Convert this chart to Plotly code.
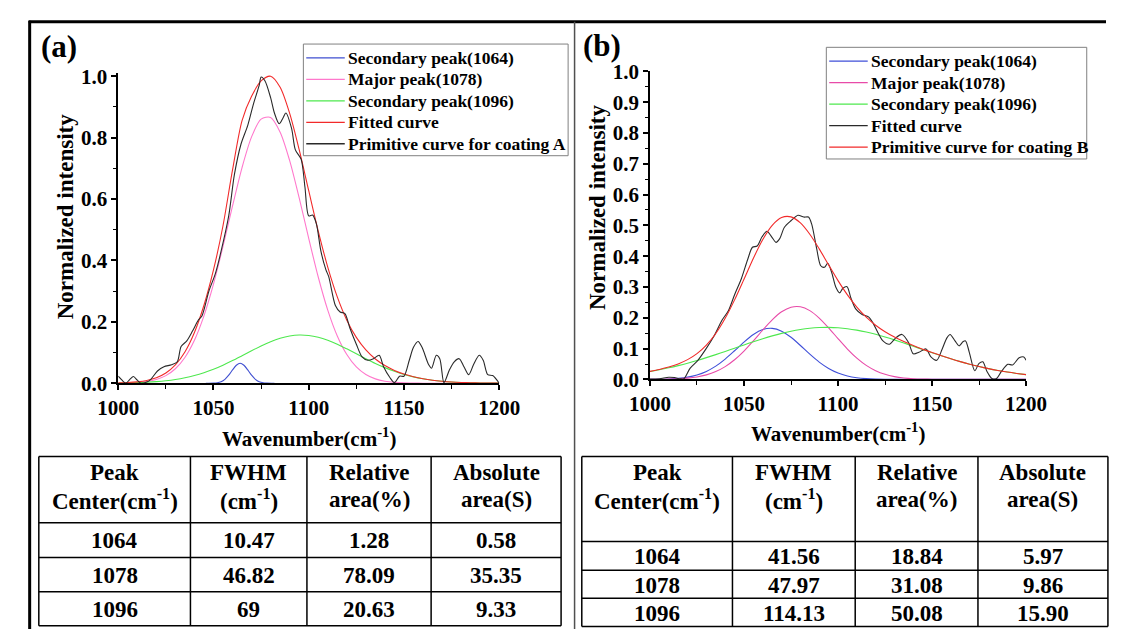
import plotly.graph_objects as go

W, H = 1127, 641
FONT = "Liberation Serif"

# ---------------- data ----------------
WN_GRID = [1000, 1005, 1010, 1015, 1020, 1025, 1030, 1035, 1040, 1045, 1050,
           1055, 1060, 1065, 1070, 1075, 1080, 1085, 1090, 1095, 1100,
           1105, 1110, 1115, 1120, 1125, 1130, 1135, 1140, 1145, 1150,
           1155, 1160, 1165, 1170, 1175, 1180, 1185, 1190, 1195, 1200]

# Panel (a) - coating A
A_BLUE_X = [1046, 1050, 1052, 1054, 1056, 1058, 1060, 1062, 1064, 1066, 1068,
            1070, 1072, 1074, 1076, 1078, 1082]
A_BLUE_Y = [0, 0.0005, 0.0017, 0.0052, 0.0129, 0.0262, 0.0434, 0.0587, 0.065,
            0.0587, 0.0434, 0.0262, 0.0129, 0.0052, 0.0017, 0.0005, 0]
A_PINK_Y = [0.0004, 0.001, 0.0025, 0.0057, 0.0123, 0.0249, 0.0472, 0.0839, 0.140,
            0.2195, 0.3228, 0.4456, 0.5775, 0.7025, 0.8023, 0.8602, 0.8656, 0.8177,
            0.7251, 0.6036, 0.4717, 0.346, 0.2382, 0.154, 0.0935, 0.0532, 0.0285,
            0.0143, 0.0067, 0.003, 0.0012, 0.0005, 0.0002, 0.0001, 0, 0, 0, 0, 0, 0, 0]
A_GREEN_Y = [0.0007, 0.0013, 0.0021, 0.0034, 0.0054, 0.0083, 0.0124, 0.018, 0.0253,
             0.0345, 0.0458, 0.059, 0.0738, 0.0897, 0.1059, 0.1214, 0.1353, 0.1463,
             0.1537, 0.157, 0.1555, 0.1498, 0.1401, 0.1272, 0.112, 0.0962, 0.0801,
             0.0647, 0.0509, 0.0388, 0.0287, 0.0207, 0.0145, 0.0098, 0.0065, 0.0041,
             0.0026, 0.0016, 0.0009, 0.0005, 0.0003]
A_FIT_Y = [0.0011, 0.0023, 0.0046, 0.0091, 0.0177, 0.0332, 0.0596, 0.1019, 0.1653,
           0.254, 0.369, 0.513, 0.6947, 0.8556, 0.9344, 0.9846, 1.0, 0.964, 0.8788,
           0.7606, 0.6272, 0.4958, 0.3783, 0.2812, 0.2055, 0.1494, 0.1086, 0.079,
           0.0576, 0.0418, 0.0299, 0.0212, 0.0147, 0.0099, 0.0065, 0.0041, 0.0026,
           0.0016, 0.0009, 0.0005, 0.0003]
A_RAW_X = [1000, 1002, 1004, 1006, 1008, 1010, 1012, 1015, 1017, 1020.6,
           1024, 1028, 1031, 1033, 1036, 1039, 1042, 1044, 1047.6, 1051,
           1054, 1058, 1061, 1064.5, 1068, 1071, 1074, 1075, 1077, 1080,
           1082, 1084.5, 1086.5, 1088, 1091, 1093, 1096, 1098, 1100, 1102,
           1104, 1106.4, 1109, 1110.5, 1114, 1116.5, 1119, 1121.6, 1125, 1128,
           1131, 1134, 1137, 1139.3, 1142.7, 1145, 1147.7, 1150, 1152.8, 1155,
           1157.4, 1159.5, 1163, 1164.5, 1167, 1168.8, 1171, 1173.9, 1176.4, 1179,
           1181.5, 1184, 1186.5, 1189.5, 1191.6, 1194, 1196.6, 1200]
A_RAW_Y = [0.023, 0.01, 0, 0.012, 0.022, 0.01, 0, 0.004, 0.012, 0.04,
           0.054, 0.06, 0.07, 0.12, 0.138, 0.17, 0.205, 0.22, 0.30, 0.357,
           0.43, 0.545, 0.68, 0.78, 0.84, 0.91, 0.97, 0.997, 0.985, 0.93,
           0.88, 0.845, 0.864, 0.88, 0.83, 0.76, 0.73, 0.64, 0.545, 0.548,
           0.52, 0.43, 0.37, 0.347, 0.253, 0.232, 0.227, 0.18, 0.127, 0.086,
           0.075, 0.08, 0.091, 0.054, 0.018, 0.002, 0.023, 0.023, 0.075, 0.117,
           0.136, 0.117, 0.06, 0.049, 0.091, 0.08, 0.002, 0.044, 0.07, 0.08,
           0.054, 0.028, 0.06, 0.091, 0.075, 0.028, 0.025, 0]

# Panel (b) - coating B
B_BLUE_Y = [0.0002, 0.0006, 0.0015, 0.0035, 0.0074, 0.0144, 0.0259, 0.043, 0.0659,
            0.093, 0.1212, 0.1458, 0.1618, 0.1657, 0.1567, 0.1367, 0.1101, 0.0818,
            0.0561, 0.0355, 0.0207, 0.0112, 0.0056, 0.0026, 0.0011, 0.0004, 0.0001,
            0, 0, 0, 0, 0, 0, 0, 0, 0, 0, 0, 0, 0, 0]
B_PINK_Y = [0.0002, 0.0004, 0.0009, 0.002, 0.0041, 0.008, 0.0148, 0.0255, 0.0416,
            0.0638, 0.0921, 0.1253, 0.1604, 0.1933, 0.2194, 0.2344, 0.2359, 0.2234,
            0.1992, 0.1673, 0.1323, 0.0985, 0.069, 0.0455, 0.0283, 0.0165, 0.0091,
            0.0047, 0.0023, 0.0011, 0.0005, 0.0002, 0.0001, 0, 0, 0, 0, 0, 0, 0, 0]
B_GREEN_Y = [0.0258, 0.0313, 0.0376, 0.0448, 0.0527, 0.0613, 0.0707, 0.0805, 0.0908,
             0.1014, 0.1119, 0.1223, 0.1321, 0.1413, 0.1495, 0.1565, 0.1621, 0.1661,
             0.1684, 0.169, 0.1677, 0.1647, 0.16, 0.1539, 0.1464, 0.1377, 0.1283,
             0.1181, 0.1077, 0.0971, 0.0867, 0.0765, 0.0669, 0.0578, 0.0494, 0.0418,
             0.035, 0.029, 0.0238, 0.0193, 0.0154]
B_SMOOTH_Y = [0.0262, 0.0323, 0.040, 0.0503, 0.0642, 0.0837, 0.1114, 0.149, 0.1983,
              0.2582, 0.3252, 0.3934, 0.4543, 0.5003, 0.5256, 0.5276, 0.5081, 0.4713,
              0.4237, 0.3718, 0.3207, 0.2744, 0.2346, 0.202, 0.1758, 0.1546, 0.1375,
              0.1228, 0.11, 0.0982, 0.0872, 0.0767, 0.0669, 0.0578, 0.0494, 0.0418,
              0.035, 0.029, 0.0238, 0.0193, 0.0154]
B_RAW_X = [1000, 1005, 1010, 1013, 1016, 1018, 1021.3, 1025.5, 1029.8, 1034,
           1038.3, 1041.7, 1045, 1048.6, 1052, 1054.5, 1057, 1059.6, 1062.2, 1064.7,
           1067, 1069, 1071.5, 1075, 1078.7, 1081.8, 1084.3, 1086, 1088.6, 1090.8,
           1092.8, 1094.5, 1096.6, 1098.8, 1100.9, 1102.6, 1104.8, 1106.8, 1109.4, 1112.8,
           1116.2, 1118.7, 1121.3, 1123.9, 1127.3, 1130.7, 1134, 1137.5, 1140, 1143,
           1146.8, 1149.4, 1152.5, 1155.4, 1157.9, 1159.6, 1162.2, 1164.4, 1166.4, 1167.8,
           1169.8, 1172.7, 1175, 1177, 1179.2, 1181.8, 1184.3, 1186.9, 1190.3, 1192.8,
           1196.3, 1198.8, 1200]
B_RAW_Y = [0.001, 0.002, 0.007, 0.006, 0.002, 0.002, 0.036, 0.062, 0.099, 0.14,
           0.192, 0.223, 0.275, 0.327, 0.39, 0.429, 0.433, 0.463, 0.481, 0.463,
           0.445, 0.457, 0.494, 0.515, 0.533, 0.527, 0.527, 0.504, 0.426, 0.369,
           0.364, 0.377, 0.348, 0.30, 0.281, 0.296, 0.301, 0.265, 0.229, 0.211,
           0.203, 0.182, 0.151, 0.125, 0.114, 0.135, 0.146, 0.12, 0.083, 0.088,
           0.099, 0.073, 0.062, 0.099, 0.135, 0.146, 0.125, 0.109, 0.122, 0.125,
           0.088, 0.028, 0.052, 0.057, 0.026, 0.003, 0.003, 0.026, 0.049, 0.047,
           0.07, 0.073, 0.062]

# Tables
HEADER_L1 = ["Peak", "FWHM", "Relative", "Absolute"]
HEADER_L2 = ["Center(cm<sup>-1</sup>)", "(cm<sup>-1</sup>)", "area(%)", "area(S)"]
PEAK_CENTERS = ["1064", "1078", "1096"]
A_FWHM = ["10.47", "46.82", "69"]
A_REL = ["1.28", "78.09", "20.63"]
A_ABS = ["0.58", "35.35", "9.33"]
B_FWHM = ["41.56", "47.97", "114.13"]
B_REL = ["18.84", "31.08", "50.08"]
B_ABS = ["5.97", "9.86", "15.90"]

LEG_A = ["Secondary peak(1064)", "Major peak(1078)", "Secondary peak(1096)",
         "Fitted curve", "Primitive curve for coating A"]
LEG_B = ["Secondary peak(1064)", "Major peak(1078)", "Secondary peak(1096)",
         "Fitted curve", "Primitive curve for coating B"]
COL_A = ["#3f4fd0", "#ff78cc", "#4ee84e", "#f22a2a", "#2a2a2a"]
COL_B = ["#3f4fd8", "#e84aa8", "#4ee84e", "#2a2a2a", "#f22a2a"]

# ---------------- helpers ----------------
def px(x):
    return x / W


def py(y):
    return 1 - y / H


fig = go.Figure()

LW = 1.1
SM = dict(shape="spline", smoothing=0.8)

# panel (a)
A_SERIES = [(A_BLUE_X, A_BLUE_Y), (WN_GRID, A_PINK_Y), (WN_GRID, A_GREEN_Y),
            (WN_GRID, A_FIT_Y), (A_RAW_X, A_RAW_Y)]
for (xs, ys), name, col in zip(A_SERIES, LEG_A, COL_A):
    fig.add_trace(go.Scatter(x=xs, y=ys, name=name, mode="lines", showlegend=False,
                             line=dict(color=col, width=LW, **SM), xaxis="x", yaxis="y"))

# panel (b)
B_SERIES = [(WN_GRID, B_BLUE_Y), (WN_GRID, B_PINK_Y), (WN_GRID, B_GREEN_Y),
            (B_RAW_X, B_RAW_Y), (WN_GRID, B_SMOOTH_Y)]
for (xs, ys), name, col in zip(B_SERIES, LEG_B, COL_B):
    fig.add_trace(go.Scatter(x=xs, y=ys, name=name, mode="lines", showlegend=False,
                             line=dict(color=col, width=LW, **SM), xaxis="x2", yaxis="y2"))

tickfont = dict(family=FONT, size=21, color="black", weight="bold")
common = dict(showline=True, linecolor="black", linewidth=1.5, ticks="outside",
              ticklen=5, tickwidth=1.5, tickcolor="black", showgrid=False,
              zeroline=False, tickfont=tickfont)


def minor(d):
    return dict(ticks="outside", ticklen=3.5, tickwidth=1.2, dtick=d,
                tickcolor="black", showgrid=False)


fig.update_layout(
    width=W, height=H, margin=dict(l=0, r=0, t=0, b=0),
    paper_bgcolor="white", plot_bgcolor="white", showlegend=False,
    xaxis=dict(domain=[px(101), px(496.7)], range=[1000, 1200], anchor="y",
               dtick=50, tick0=1000, minor=minor(25), **common),
    yaxis=dict(domain=[py(385.7), py(63.5)], range=[0, 1.01], anchor="x",
               dtick=0.2, tick0=0, tickformat=".1f", minor=minor(0.1), **common),
    xaxis2=dict(domain=[px(653.3), px(1044)], range=[1000, 1200], anchor="y2",
                dtick=50, tick0=1000, minor=minor(25), **common),
    yaxis2=dict(domain=[py(381.7), py(61.7)], range=[0, 1.0], anchor="x2",
                dtick=0.1, tick0=0, tickformat=".1f", minor=minor(0.05), **common),
)

annotations = []
shapes = []


def text(x, y, s, size=20, angle=0, anchor="center"):
    annotations.append(dict(x=px(x), y=py(y), xref="paper", yref="paper", text=s,
                            showarrow=False, xanchor=anchor, yanchor="middle",
                            textangle=angle, borderpad=0,
                            font=dict(family=FONT, size=size, color="black", weight="bold")))


def line(x0, y0, x1, y1, w=1.5, color="black"):
    shapes.append(dict(type="line", xref="paper", yref="paper",
                       x0=px(x0), y0=py(y0), x1=px(x1), y1=py(y1),
                       line=dict(color=color, width=w)))


# panel labels and axis titles
text(39, 36, "(a)", size=31)
text(603, 35, "(b)", size=31)
text(46, 212, "Normalized intensity", size=23, angle=-90)
text(599, 203, "Normalized intensity", size=23, angle=-90)
text(299, 442, "Wavenumber(cm<sup>-1</sup>)", size=21)
text(849, 437, "Wavenumber(cm<sup>-1</sup>)", size=21)

# outer frame and divider
line(8, 10, 1127, 10, w=3)
line(9, 9, 9, 641, w=3)
line(575, 10, 575, 641, w=1.5, color="#505050")


# legends (drawn as boxes with line samples and labels)
def legend(x0, y0, x1, y1, names, colors):
    shapes.append(dict(type="rect", xref="paper", yref="paper",
                       x0=px(x0), y0=py(y0), x1=px(x1), y1=py(y1),
                       line=dict(color="#808080", width=1), fillcolor="white",
                       layer="above"))
    for k, (nm, col) in enumerate(zip(names, colors)):
        yc = y0 + 14.4 + 22.3 * k
        line(x0 + 3, yc, x0 + 43, yc, w=1.3, color=col)
        text(x0 + 45.5, yc, nm, size=17.5, anchor="left")


legend(293.3, 33.3, 568.3, 149.3, LEG_A, COL_A)
legend(836.5, 36.7, 1107, 152.7, LEG_B, COL_B)


def table(cols, rows, col_data, head_y1, head_y2, val_y):
    for c in cols:
        line(c, rows[0], c, rows[-1])
    for r in rows:
        line(cols[0], r, cols[-1], r)
    centers = [(cols[i] + cols[i + 1]) / 2 for i in range(4)]
    for i in range(4):
        text(centers[i], head_y1, HEADER_L1[i], size=23)
        text(centers[i], head_y2, HEADER_L2[i], size=23)
    for j in range(3):
        for i in range(4):
            text(centers[i], val_y[j], col_data[i][j], size=23)


table([18.5, 176, 297, 426, 561], [461.7, 530.7, 566.7, 602.3, 637.5],
      [PEAK_CENTERS, A_FWHM, A_REL, A_ABS], 478, 506.5, [549, 585, 620.5])
table([582.5, 739, 866.5, 994, 1129], [461.7, 550, 580, 609, 638.5],
      [PEAK_CENTERS, B_FWHM, B_REL, B_ABS], 478, 506.5, [566, 595.5, 624.5])

fig.update_layout(annotations=annotations, shapes=shapes)

fig.write_html("out.html")
